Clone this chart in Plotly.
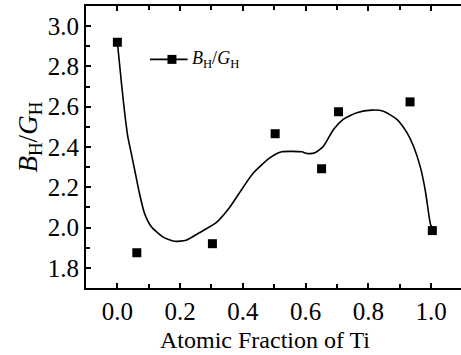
import plotly.graph_objects as go

# measured data points
x_pts = [0.0, 0.062, 0.303, 0.503, 0.651, 0.705, 0.933, 1.004]
y_pts = [2.92, 1.875, 1.92, 2.466, 2.292, 2.575, 2.624, 1.985]

# fitted curve
x_fit = [0.0, 0.014, 0.0245, 0.033, 0.044, 0.057, 0.070, 0.086, 0.107, 0.145, 0.182,
         0.219, 0.261, 0.315, 0.357, 0.400, 0.434, 0.487, 0.524, 0.588, 0.604, 0.630,
         0.657, 0.689, 0.720, 0.763, 0.811, 0.848, 0.891, 0.923, 0.944, 0.965, 0.981,
         0.997, 1.004]
y_fit = [2.92, 2.702, 2.553, 2.454, 2.371, 2.272, 2.173, 2.073, 2.007, 1.954, 1.932,
         1.937, 1.974, 2.024, 2.098, 2.198, 2.272, 2.347, 2.376, 2.376, 2.368, 2.371,
         2.404, 2.487, 2.537, 2.570, 2.583, 2.578, 2.537, 2.471, 2.404, 2.305, 2.189,
         2.024, 1.987]

x_ticks = [0.0, 0.2, 0.4, 0.6, 0.8, 1.0]
y_ticks = [1.8, 2.0, 2.2, 2.4, 2.6, 2.8, 3.0]

legend_x = [0.174]
legend_y = [2.835]

FONT = "Liberation Serif, Times New Roman, DejaVu Serif, serif"

fig = go.Figure()
fig.add_trace(go.Scatter(x=x_fit, y=y_fit, mode="lines",
                         line=dict(color="black", width=1.6, shape="spline", smoothing=0.6),
                         showlegend=False, hoverinfo="skip"))
fig.add_trace(go.Scatter(x=x_pts, y=y_pts, mode="markers",
                         marker=dict(symbol="square", size=9, color="black"),
                         showlegend=False))
# legend sample (line + marker)
fig.add_trace(go.Scatter(x=[legend_x[0] - 0.07, legend_x[0] + 0.05], y=[legend_y[0], legend_y[0]],
                         mode="lines", line=dict(color="black", width=1.6),
                         showlegend=False, hoverinfo="skip"))
fig.add_trace(go.Scatter(x=legend_x, y=legend_y, mode="markers",
                         marker=dict(symbol="square", size=9, color="black"),
                         showlegend=False, hoverinfo="skip"))
fig.add_annotation(x=legend_x[0] + 0.058, y=legend_y[0],
                   xanchor="left", yanchor="middle", showarrow=False,
                   text="<i>B</i><sub>H</sub>/<i>G</i><sub>H</sub>",
                   font=dict(family=FONT, size=18, color="black"))
# y-axis title
fig.add_annotation(xref="paper", yref="paper", x=-0.149, y=0.534,
                   xanchor="center", yanchor="middle", showarrow=False, textangle=-90,
                   text="<i>B</i><sub>H</sub>/<i>G</i><sub>H</sub>",
                   font=dict(family=FONT, size=27, color="black"))
# x-axis title
fig.add_annotation(xref="paper", yref="paper", x=0.476, y=-0.184,
                   xanchor="center", yanchor="middle", showarrow=False,
                   text="Atomic Fraction of Ti",
                   font=dict(family=FONT, size=24, color="black"))

fig.update_layout(
    width=461, height=355,
    margin=dict(l=86, r=0, t=6, b=67),
    paper_bgcolor="white", plot_bgcolor="white",
    font=dict(family=FONT, size=25, color="black"),
    showlegend=False,
    xaxis=dict(range=[-0.1, 1.0954], tickvals=x_ticks, ticktext=[f"{v:.1f}" for v in x_ticks],
               ticks="inside", ticklen=5, tickwidth=1.5, tickcolor="black",
               minor=dict(dtick=0.1, tick0=0, ticks="inside", ticklen=4, tickwidth=1.5, tickcolor="black", showgrid=False),
               showline=True, linecolor="black", linewidth=2, mirror="allticks",
               showgrid=False, zeroline=False,
               tickfont=dict(family=FONT, size=25, color="black")),
    yaxis=dict(range=[1.7, 3.1], tickvals=y_ticks, ticktext=[f"{v:.1f}" for v in y_ticks],
               ticks="inside", ticklen=5, tickwidth=1.5, tickcolor="black",
               minor=dict(dtick=0.1, tick0=1.7, ticks="inside", ticklen=4, tickwidth=1.5, tickcolor="black", showgrid=False),
               showline=True, linecolor="black", linewidth=2, mirror=False,
               showgrid=False, zeroline=False,
               tickfont=dict(family=FONT, size=25, color="black")),
)

fig.write_html("out.html")
